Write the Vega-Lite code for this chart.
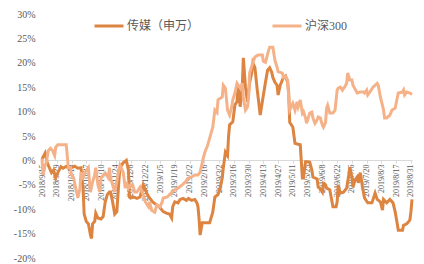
{
"$schema":"https://vega.github.io/schema/vega-lite/v6.json",
"width":370,"height":244,
"autosize":{"type":"none"},
"padding":{"left":42,"top":14,"right":12,"bottom":6},
"background":"#ffffff",
"config":{"view":{"stroke":null}},
"data":{"values":[
{"s":"传媒（申万）","d":"2018/9/15","v":0.3},{"s":"传媒（申万）","d":"2018/9/18","v":1.5},{"s":"传媒（申万）","d":"2018/9/20","v":-0.5},{"s":"传媒（申万）","d":"2018/9/22","v":-1.5},{"s":"传媒（申万）","d":"2018/9/24","v":-2.5},{"s":"传媒（申万）","d":"2018/9/26","v":-2.0},{"s":"传媒（申万）","d":"2018/9/28","v":-3.6},{"s":"传媒（申万）","d":"2018/9/30","v":-2.5},{"s":"传媒（申万）","d":"2018/10/3","v":-1.3},{"s":"传媒（申万）","d":"2018/10/5","v":-1.6},{"s":"传媒（申万）","d":"2018/10/8","v":-1.2},{"s":"传媒（申万）","d":"2018/10/11","v":-1.8},{"s":"传媒（申万）","d":"2018/10/13","v":-1.5},{"s":"传媒（申万）","d":"2018/10/16","v":-1.2},{"s":"传媒（申万）","d":"2018/10/19","v":-1.6},{"s":"传媒（申万）","d":"2018/10/22","v":-1.5},{"s":"传媒（申万）","d":"2018/10/24","v":-6},{"s":"传媒（申万）","d":"2018/10/25","v":-11},{"s":"传媒（申万）","d":"2018/10/27","v":-12.5},{"s":"传媒（申万）","d":"2018/10/29","v":-13},{"s":"传媒（申万）","d":"2018/10/31","v":-15.3},{"s":"传媒（申万）","d":"2018/11/1","v":-16},{"s":"传媒（申万）","d":"2018/11/2","v":-13},{"s":"传媒（申万）","d":"2018/11/4","v":-12.5},{"s":"传媒（申万）","d":"2018/11/5","v":-10.8},{"s":"传媒（申万）","d":"2018/11/7","v":-11.8},{"s":"传媒（申万）","d":"2018/11/10","v":-12},{"s":"传媒（申万）","d":"2018/11/12","v":-11.5},{"s":"传媒（申万）","d":"2018/11/14","v":-8.5},{"s":"传媒（申万）","d":"2018/11/16","v":-7},{"s":"传媒（申万）","d":"2018/11/18","v":-6.5},{"s":"传媒（申万）","d":"2018/11/19","v":-6.5},{"s":"传媒（申万）","d":"2018/11/21","v":-8.5},{"s":"传媒（申万）","d":"2018/11/23","v":-11},{"s":"传媒（申万）","d":"2018/11/25","v":-10.5},{"s":"传媒（申万）","d":"2018/11/27","v":-4},{"s":"传媒（申万）","d":"2018/11/28","v":-1.5},{"s":"传媒（申万）","d":"2018/12/1","v":-0.5},{"s":"传媒（申万）","d":"2018/12/4","v":0},{"s":"传媒（申万）","d":"2018/12/6","v":-2},{"s":"传媒（申万）","d":"2018/12/7","v":-7.5},{"s":"传媒（申万）","d":"2018/12/8","v":-7.7},{"s":"传媒（申万）","d":"2018/12/11","v":-7.5},{"s":"传媒（申万）","d":"2018/12/14","v":-7.8},{"s":"传媒（申万）","d":"2018/12/17","v":-7.5},{"s":"传媒（申万）","d":"2018/12/20","v":-5},{"s":"传媒（申万）","d":"2018/12/22","v":-6},{"s":"传媒（申万）","d":"2018/12/24","v":-7},{"s":"传媒（申万）","d":"2018/12/26","v":-7.7},{"s":"传媒（申万）","d":"2018/12/29","v":-8.5},{"s":"传媒（申万）","d":"2019/1/1","v":-9},{"s":"传媒（申万）","d":"2019/1/3","v":-9.3},{"s":"传媒（申万）","d":"2019/1/5","v":-9.7},{"s":"传媒（申万）","d":"2019/1/8","v":-10.5},{"s":"传媒（申万）","d":"2019/1/11","v":-10.8},{"s":"传媒（申万）","d":"2019/1/14","v":-11},{"s":"传媒（申万）","d":"2019/1/16","v":-11.8},{"s":"传媒（申万）","d":"2019/1/17","v":-9.5},{"s":"传媒（申万）","d":"2019/1/19","v":-8.5},{"s":"传媒（申万）","d":"2019/1/22","v":-8.7},{"s":"传媒（申万）","d":"2019/1/24","v":-8},{"s":"传媒（申万）","d":"2019/1/27","v":-7.8},{"s":"传媒（申万）","d":"2019/1/30","v":-8.2},{"s":"传媒（申万）","d":"2019/2/1","v":-7.8},{"s":"传媒（申万）","d":"2019/2/4","v":-8.2},{"s":"传媒（申万）","d":"2019/2/7","v":-8},{"s":"传媒（申万）","d":"2019/2/9","v":-8.7},{"s":"传媒（申万）","d":"2019/2/10","v":-9.5},{"s":"传媒（申万）","d":"2019/2/11","v":-12},{"s":"传媒（申万）","d":"2019/2/12","v":-15.3},{"s":"传媒（申万）","d":"2019/2/14","v":-12.8},{"s":"传媒（申万）","d":"2019/2/18","v":-12.8},{"s":"传媒（申万）","d":"2019/2/21","v":-12.8},{"s":"传媒（申万）","d":"2019/2/24","v":-10.6},{"s":"传媒（申万）","d":"2019/2/26","v":-7.5},{"s":"传媒（申万）","d":"2019/3/1","v":-7},{"s":"传媒（申万）","d":"2019/3/3","v":-5.7},{"s":"传媒（申万）","d":"2019/3/5","v":-3.6},{"s":"传媒（申万）","d":"2019/3/6","v":-1.5},{"s":"传媒（申万）","d":"2019/3/8","v":1.7},{"s":"传媒（申万）","d":"2019/3/10","v":1},{"s":"传媒（申万）","d":"2019/3/11","v":5},{"s":"传媒（申万）","d":"2019/3/12","v":7.3},{"s":"传媒（申万）","d":"2019/3/15","v":7.9},{"s":"传媒（申万）","d":"2019/3/17","v":11.4},{"s":"传媒（申万）","d":"2019/3/19","v":12},{"s":"传媒（申万）","d":"2019/3/20","v":15.4},{"s":"传媒（申万）","d":"2019/3/22","v":11},{"s":"传媒（申万）","d":"2019/3/24","v":15},{"s":"传媒（申万）","d":"2019/3/25","v":21},{"s":"传媒（申万）","d":"2019/3/27","v":15},{"s":"传媒（申万）","d":"2019/3/29","v":12},{"s":"传媒（申万）","d":"2019/3/30","v":14},{"s":"传媒（申万）","d":"2019/3/31","v":16},{"s":"传媒（申万）","d":"2019/4/2","v":18},{"s":"传媒（申万）","d":"2019/4/3","v":20},{"s":"传媒（申万）","d":"2019/4/5","v":19},{"s":"传媒（申万）","d":"2019/4/7","v":14.8},{"s":"传媒（申万）","d":"2019/4/10","v":9.3},{"s":"传媒（申万）","d":"2019/4/12","v":12},{"s":"传媒（申万）","d":"2019/4/15","v":16},{"s":"传媒（申万）","d":"2019/4/17","v":18.5},{"s":"传媒（申万）","d":"2019/4/19","v":19},{"s":"传媒（申万）","d":"2019/4/21","v":18},{"s":"传媒（申万）","d":"2019/4/22","v":17},{"s":"传媒（申万）","d":"2019/4/24","v":16},{"s":"传媒（申万）","d":"2019/4/26","v":15.4},{"s":"传媒（申万）","d":"2019/4/27","v":13.4},{"s":"传媒（申万）","d":"2019/4/29","v":15.4},{"s":"传媒（申万）","d":"2019/5/2","v":17},{"s":"传媒（申万）","d":"2019/5/4","v":17.3},{"s":"传媒（申万）","d":"2019/5/6","v":16},{"s":"传媒（申万）","d":"2019/5/7","v":14},{"s":"传媒（申万）","d":"2019/5/8","v":7.8},{"s":"传媒（申万）","d":"2019/5/11","v":6.8},{"s":"传媒（申万）","d":"2019/5/13","v":3.5},{"s":"传媒（申万）","d":"2019/5/16","v":3.3},{"s":"传媒（申万）","d":"2019/5/18","v":3.2},{"s":"传媒（申万）","d":"2019/5/20","v":-3.6},{"s":"传媒（申万）","d":"2019/5/21","v":-3.6},{"s":"传媒（申万）","d":"2019/5/23","v":-0.3},{"s":"传媒（申万）","d":"2019/5/25","v":-0.3},{"s":"传媒（申万）","d":"2019/5/27","v":-0.4},{"s":"传媒（申万）","d":"2019/5/29","v":-2},{"s":"传媒（申万）","d":"2019/5/30","v":-3.4},{"s":"传媒（申万）","d":"2019/6/3","v":-3.8},{"s":"传媒（申万）","d":"2019/6/4","v":-5.5},{"s":"传媒（申万）","d":"2019/6/6","v":-5.8},{"s":"传媒（申万）","d":"2019/6/8","v":-6.5},{"s":"传媒（申万）","d":"2019/6/9","v":-4.7},{"s":"传媒（申万）","d":"2019/6/11","v":-5},{"s":"传媒（申万）","d":"2019/6/12","v":-5.7},{"s":"传媒（申万）","d":"2019/6/15","v":-6},{"s":"传媒（申万）","d":"2019/6/18","v":-9.5},{"s":"传媒（申万）","d":"2019/6/21","v":-9.5},{"s":"传媒（申万）","d":"2019/6/22","v":-8.5},{"s":"传媒（申万）","d":"2019/6/23","v":-5},{"s":"传媒（申万）","d":"2019/6/25","v":-6.7},{"s":"传媒（申万）","d":"2019/6/28","v":-6.5},{"s":"传媒（申万）","d":"2019/7/1","v":-5.7},{"s":"传媒（申万）","d":"2019/7/3","v":-3},{"s":"传媒（申万）","d":"2019/7/4","v":-1.4},{"s":"传媒（申万）","d":"2019/7/6","v":-3.4},{"s":"传媒（申万）","d":"2019/7/7","v":-5.5},{"s":"传媒（申万）","d":"2019/7/9","v":-4},{"s":"传媒（申万）","d":"2019/7/11","v":-3.4},{"s":"传媒（申万）","d":"2019/7/12","v":-4.6},{"s":"传媒（申万）","d":"2019/7/14","v":-2.5},{"s":"传媒（申万）","d":"2019/7/16","v":-5.5},{"s":"传媒（申万）","d":"2019/7/18","v":-7.7},{"s":"传媒（申万）","d":"2019/7/21","v":-8.7},{"s":"传媒（申万）","d":"2019/7/25","v":-8.7},{"s":"传媒（申万）","d":"2019/7/28","v":-6.7},{"s":"传媒（申万）","d":"2019/7/30","v":-8},{"s":"传媒（申万）","d":"2019/8/2","v":-8.5},{"s":"传媒（申万）","d":"2019/8/4","v":-10.2},{"s":"传媒（申万）","d":"2019/8/5","v":-8},{"s":"传媒（申万）","d":"2019/8/8","v":-8.7},{"s":"传媒（申万）","d":"2019/8/11","v":-8},{"s":"传媒（申万）","d":"2019/8/14","v":-8.7},{"s":"传媒（申万）","d":"2019/8/16","v":-10.5},{"s":"传媒（申万）","d":"2019/8/18","v":-13},{"s":"传媒（申万）","d":"2019/8/19","v":-14.3},{"s":"传媒（申万）","d":"2019/8/23","v":-14.3},{"s":"传媒（申万）","d":"2019/8/24","v":-13.3},{"s":"传媒（申万）","d":"2019/8/27","v":-13},{"s":"传媒（申万）","d":"2019/8/29","v":-12.5},{"s":"传媒（申万）","d":"2019/8/30","v":-12.2},{"s":"传媒（申万）","d":"2019/8/31","v":-10.5},{"s":"传媒（申万）","d":"2019/9/1","v":-8},
{"s":"沪深300","d":"2018/9/15","v":0.3},{"s":"沪深300","d":"2018/9/16","v":-3},{"s":"沪深300","d":"2018/9/18","v":-1},{"s":"沪深300","d":"2018/9/19","v":-0.5},{"s":"沪深300","d":"2018/9/21","v":2},{"s":"沪深300","d":"2018/9/23","v":2.5},{"s":"沪深300","d":"2018/9/25","v":2.0},{"s":"沪深300","d":"2018/9/27","v":1.0},{"s":"沪深300","d":"2018/9/28","v":2.7},{"s":"沪深300","d":"2018/9/30","v":3.2},{"s":"沪深300","d":"2018/10/4","v":3.2},{"s":"沪深300","d":"2018/10/8","v":3.2},{"s":"沪深300","d":"2018/10/10","v":-1.5},{"s":"沪深300","d":"2018/10/12","v":-1.5},{"s":"沪深300","d":"2018/10/13","v":-3},{"s":"沪深300","d":"2018/10/15","v":-3.6},{"s":"沪深300","d":"2018/10/17","v":-5.7},{"s":"沪深300","d":"2018/10/19","v":-7.7},{"s":"沪深300","d":"2018/10/21","v":-5.7},{"s":"沪深300","d":"2018/10/22","v":-2.4},{"s":"沪深300","d":"2018/10/24","v":-3.5},{"s":"沪深300","d":"2018/10/26","v":-2.4},{"s":"沪深300","d":"2018/10/29","v":-1.5},{"s":"沪深300","d":"2018/10/30","v":-4.4},{"s":"沪深300","d":"2018/10/31","v":-6.5},{"s":"沪深300","d":"2018/11/2","v":-4.4},{"s":"沪深300","d":"2018/11/4","v":-3},{"s":"沪深300","d":"2018/11/5","v":-1.5},{"s":"沪深300","d":"2018/11/7","v":-5},{"s":"沪深300","d":"2018/11/9","v":-6.5},{"s":"沪深300","d":"2018/11/10","v":-3.6},{"s":"沪深300","d":"2018/11/14","v":-2.6},{"s":"沪深300","d":"2018/11/17","v":-3.6},{"s":"沪深300","d":"2018/11/18","v":-1.5},{"s":"沪深300","d":"2018/11/19","v":-3.6},{"s":"沪深300","d":"2018/11/21","v":-5},{"s":"沪深300","d":"2018/11/23","v":-6.5},{"s":"沪深300","d":"2018/11/26","v":-3},{"s":"沪深300","d":"2018/11/28","v":-1},{"s":"沪深300","d":"2018/12/1","v":-2.4},{"s":"沪深300","d":"2018/12/3","v":-5.7},{"s":"沪深300","d":"2018/12/4","v":-4.4},{"s":"沪深300","d":"2018/12/6","v":-5.7},{"s":"沪深300","d":"2018/12/8","v":-5},{"s":"沪深300","d":"2018/12/10","v":-5},{"s":"沪深300","d":"2018/12/12","v":-6.5},{"s":"沪深300","d":"2018/12/14","v":-6.5},{"s":"沪深300","d":"2018/12/17","v":-5.5},{"s":"沪深300","d":"2018/12/20","v":-7},{"s":"沪深300","d":"2018/12/22","v":-8.5},{"s":"沪深300","d":"2018/12/25","v":-9.5},{"s":"沪深300","d":"2018/12/26","v":-8.5},{"s":"沪深300","d":"2018/12/28","v":-10.2},{"s":"沪深300","d":"2018/12/31","v":-10.6},{"s":"沪深300","d":"2019/1/2","v":-9.1},{"s":"沪深300","d":"2019/1/5","v":-9.5},{"s":"沪深300","d":"2019/1/7","v":-8.5},{"s":"沪深300","d":"2019/1/8","v":-7.7},{"s":"沪深300","d":"2019/1/12","v":-7.5},{"s":"沪深300","d":"2019/1/14","v":-7},{"s":"沪深300","d":"2019/1/16","v":-6.6},{"s":"沪深300","d":"2019/1/19","v":-6},{"s":"沪深300","d":"2019/1/22","v":-5.7},{"s":"沪深300","d":"2019/1/26","v":-5},{"s":"沪深300","d":"2019/1/29","v":-4.4},{"s":"沪深300","d":"2019/2/1","v":-3.6},{"s":"沪深300","d":"2019/2/4","v":-3.4},{"s":"沪深300","d":"2019/2/7","v":-3},{"s":"沪深300","d":"2019/2/10","v":-3},{"s":"沪深300","d":"2019/2/12","v":-2.4},{"s":"沪深300","d":"2019/2/14","v":-0.5},{"s":"沪深300","d":"2019/2/15","v":0.5},{"s":"沪深300","d":"2019/2/17","v":2},{"s":"沪深300","d":"2019/2/19","v":3},{"s":"沪深300","d":"2019/2/21","v":4.5},{"s":"沪深300","d":"2019/2/24","v":6.8},{"s":"沪深300","d":"2019/2/26","v":10.3},{"s":"沪深300","d":"2019/2/28","v":9.8},{"s":"沪深300","d":"2019/3/1","v":12.4},{"s":"沪深300","d":"2019/3/5","v":13},{"s":"沪深300","d":"2019/3/6","v":15.4},{"s":"沪深300","d":"2019/3/8","v":14.8},{"s":"沪深300","d":"2019/3/10","v":10.3},{"s":"沪深300","d":"2019/3/12","v":9.3},{"s":"沪深300","d":"2019/3/14","v":11},{"s":"沪深300","d":"2019/3/15","v":12.4},{"s":"沪深300","d":"2019/3/17","v":13.8},{"s":"沪深300","d":"2019/3/19","v":15.8},{"s":"沪深300","d":"2019/3/22","v":14.8},{"s":"沪深300","d":"2019/3/24","v":15.8},{"s":"沪深300","d":"2019/3/25","v":13},{"s":"沪深300","d":"2019/3/27","v":10.3},{"s":"沪深300","d":"2019/3/29","v":11},{"s":"沪深300","d":"2019/3/30","v":13},{"s":"沪深300","d":"2019/3/31","v":17.9},{"s":"沪深300","d":"2019/4/3","v":20},{"s":"沪深300","d":"2019/4/5","v":21.2},{"s":"沪深300","d":"2019/4/8","v":21.6},{"s":"沪深300","d":"2019/4/12","v":21.6},{"s":"沪深300","d":"2019/4/13","v":20.3},{"s":"沪深300","d":"2019/4/15","v":20.1},{"s":"沪深300","d":"2019/4/18","v":22.6},{"s":"沪深300","d":"2019/4/19","v":23.2},{"s":"沪深300","d":"2019/4/22","v":23.2},{"s":"沪深300","d":"2019/4/24","v":20.5},{"s":"沪深300","d":"2019/4/26","v":19.1},{"s":"沪深300","d":"2019/4/27","v":18.2},{"s":"沪深300","d":"2019/5/1","v":17.9},{"s":"沪深300","d":"2019/5/2","v":17},{"s":"沪深300","d":"2019/5/4","v":17.2},{"s":"沪深300","d":"2019/5/6","v":16.5},{"s":"沪深300","d":"2019/5/7","v":13},{"s":"沪深300","d":"2019/5/8","v":10.3},{"s":"沪深300","d":"2019/5/11","v":11.7},{"s":"沪深300","d":"2019/5/13","v":10.3},{"s":"沪深300","d":"2019/5/15","v":12},{"s":"沪深300","d":"2019/5/16","v":11},{"s":"沪深300","d":"2019/5/18","v":12.4},{"s":"沪深300","d":"2019/5/20","v":9.7},{"s":"沪深300","d":"2019/5/21","v":10},{"s":"沪深300","d":"2019/5/23","v":8.7},{"s":"沪深300","d":"2019/5/24","v":7.6},{"s":"沪深300","d":"2019/5/25","v":8.3},{"s":"沪深300","d":"2019/5/27","v":9.7},{"s":"沪深300","d":"2019/5/29","v":9.9},{"s":"沪深300","d":"2019/5/30","v":8.7},{"s":"沪深300","d":"2019/6/1","v":7.6},{"s":"沪深300","d":"2019/6/3","v":8.3},{"s":"沪深300","d":"2019/6/4","v":8.9},{"s":"沪深300","d":"2019/6/6","v":8.7},{"s":"沪深300","d":"2019/6/8","v":7.2},{"s":"沪深300","d":"2019/6/9","v":6.8},{"s":"沪深300","d":"2019/6/11","v":7.8},{"s":"沪深300","d":"2019/6/12","v":10.7},{"s":"沪深300","d":"2019/6/13","v":11.3},{"s":"沪深300","d":"2019/6/15","v":9.7},{"s":"沪深300","d":"2019/6/18","v":9.7},{"s":"沪深300","d":"2019/6/20","v":10.3},{"s":"沪深300","d":"2019/6/22","v":14.4},{"s":"沪深300","d":"2019/6/23","v":14.8},{"s":"沪深300","d":"2019/6/25","v":15},{"s":"沪深300","d":"2019/6/27","v":14.4},{"s":"沪深300","d":"2019/6/28","v":14.8},{"s":"沪深300","d":"2019/6/29","v":15},{"s":"沪深300","d":"2019/7/1","v":15.8},{"s":"沪深300","d":"2019/7/2","v":17.9},{"s":"沪深300","d":"2019/7/4","v":16.5},{"s":"沪深300","d":"2019/7/6","v":16.5},{"s":"沪深300","d":"2019/7/7","v":15.4},{"s":"沪深300","d":"2019/7/11","v":13.8},{"s":"沪深300","d":"2019/7/14","v":14},{"s":"沪深300","d":"2019/7/17","v":14},{"s":"沪深300","d":"2019/7/18","v":13.8},{"s":"沪深300","d":"2019/7/20","v":14.4},{"s":"沪深300","d":"2019/7/21","v":13.4},{"s":"沪深300","d":"2019/7/23","v":14},{"s":"沪深300","d":"2019/7/26","v":15},{"s":"沪深300","d":"2019/7/30","v":15.8},{"s":"沪深300","d":"2019/7/31","v":15.4},{"s":"沪深300","d":"2019/8/2","v":13},{"s":"沪深300","d":"2019/8/5","v":10.3},{"s":"沪深300","d":"2019/8/6","v":8.7},{"s":"沪深300","d":"2019/8/8","v":8.7},{"s":"沪深300","d":"2019/8/11","v":9.3},{"s":"沪深300","d":"2019/8/13","v":10.3},{"s":"沪深300","d":"2019/8/16","v":10.7},{"s":"沪深300","d":"2019/8/19","v":13.8},{"s":"沪深300","d":"2019/8/23","v":14},{"s":"沪深300","d":"2019/8/24","v":14.4},{"s":"沪深300","d":"2019/8/25","v":13.4},{"s":"沪深300","d":"2019/8/27","v":14},{"s":"沪深300","d":"2019/8/30","v":13.8},{"s":"沪深300","d":"2019/9/1","v":13.5}
]},
"mark":{"type":"line","strokeWidth":3,"interpolate":"linear"},
"encoding":{
"x":{"field":"d","type":"temporal",
"scale":{"domain":[{"year":2018,"month":9,"date":15},{"year":2019,"month":9,"date":1}]},
"axis":{"orient":"bottom","offset":-98,"title":null,"grid":false,
"values":[{"year":2018,"month":9,"date":15},{"year":2018,"month":9,"date":29},{"year":2018,"month":10,"date":13},{"year":2018,"month":10,"date":27},{"year":2018,"month":11,"date":10},{"year":2018,"month":11,"date":24},{"year":2018,"month":12,"date":8},{"year":2018,"month":12,"date":22},{"year":2019,"month":1,"date":5},{"year":2019,"month":1,"date":19},{"year":2019,"month":2,"date":2},{"year":2019,"month":2,"date":16},{"year":2019,"month":3,"date":2},{"year":2019,"month":3,"date":16},{"year":2019,"month":3,"date":30},{"year":2019,"month":4,"date":13},{"year":2019,"month":4,"date":27},{"year":2019,"month":5,"date":11},{"year":2019,"month":5,"date":25},{"year":2019,"month":6,"date":8},{"year":2019,"month":6,"date":22},{"year":2019,"month":7,"date":6},{"year":2019,"month":7,"date":20},{"year":2019,"month":8,"date":3},{"year":2019,"month":8,"date":17},{"year":2019,"month":8,"date":31}],
"format":"%Y/%-m/%-d","labelAngle":270,"labelFont":"Liberation Serif","labelFontSize":8,"labelColor":"#595959",
"labelOverlap":false,"labelFlush":false,"labelPadding":1,"tickSize":3,"tickColor":"#D9D9D9","domainColor":"#D9D9D9","domainWidth":1}},
"y":{"field":"v","type":"quantitative",
"scale":{"domain":[-20,30],"nice":false,"zero":false},
"axis":{"title":null,"grid":false,"domain":false,"ticks":false,
"values":[-20,-15,-10,-5,0,5,10,15,20,25,30],"labelExpr":"datum.value + '%'",
"labelFont":"Liberation Serif","labelFontSize":10,"labelColor":"#595959","labelPadding":7}},
"color":{"field":"s","type":"nominal",
"scale":{"domain":["传媒（申万）","沪深300"],"range":["#DD8440","#F5B289"]},
"legend":{"title":null,"orient":"none","legendX":51,"legendY":-4,"direction":"horizontal",
"symbolType":"stroke","symbolSize":841,"symbolStrokeWidth":3,"labelFont":"Liberation Serif, Noto Sans CJK SC","labelFontSize":12,"labelColor":"#595959","columnPadding":66,"labelOffset":2,"padding":0}}
}
}
